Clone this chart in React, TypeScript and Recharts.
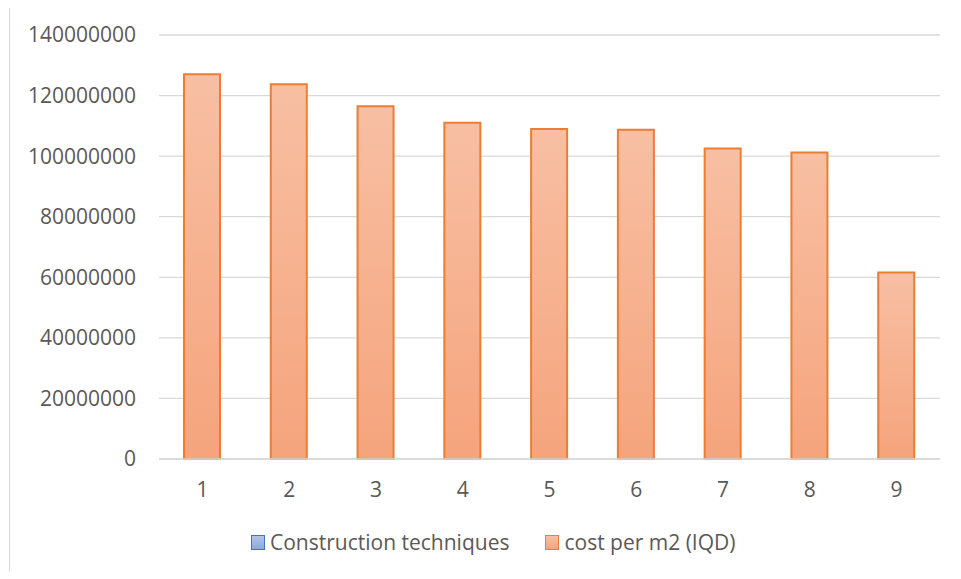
import React from 'react';
import { BarChart, Bar, XAxis, YAxis, CartesianGrid } from 'recharts';

const categories = ['1', '2', '3', '4', '5', '6', '7', '8', '9'];
const costPerM2 = [
  127000000, 123700000, 116500000, 111000000, 109000000, 108700000, 102500000, 101200000,
  61600000,
];
const yTicks = [0, 20000000, 40000000, 60000000, 80000000, 100000000, 120000000, 140000000];

const data = categories.map((c, i) => ({ name: c, cost: costPerM2[i] }));

const FONT = '"Open Sans", "Liberation Sans", sans-serif';
const TEXT = '#595959';
const GRID = '#d9d9d9';

const LegendItem = ({ from, to, border, label }: { from: string; to: string; border: string; label: string }) => (
  <div style={{ display: 'flex', alignItems: 'center' }}>
    <span
      style={{
        width: 14,
        height: 15,
        boxSizing: 'border-box',
        border: `1.5px solid ${border}`,
        background: `linear-gradient(${from}, ${to})`,
        marginRight: 5,
      }}
    />
    <span style={{ fontSize: 21, color: TEXT, fontFamily: FONT, lineHeight: '24px' }}>{label}</span>
  </div>
);

export default function App() {
  return (
    <div style={{ position: 'relative', width: 961, height: 579, margin: -8, overflow: 'hidden', background: '#fff' }}>
      <div
        style={{
          position: 'absolute',
          left: 9,
          top: 6,
          width: 1000,
          height: 700,
          border: `1px solid ${GRID}`,
        }}
      />
      <div style={{ position: 'absolute', left: 0, top: 0 }}>
        <BarChart
          width={961}
          height={579}
          data={data}
          margin={{ top: 35, right: 21, left: 0, bottom: 90 }}
          barSize={36}
        >
          <defs>
            <linearGradient id="costGrad" x1="0" y1="0" x2="0" y2="1">
              <stop offset="0%" stopColor="#f8bfa3" />
              <stop offset="100%" stopColor="#f5a47c" />
            </linearGradient>
          </defs>
          <CartesianGrid vertical={false} stroke={GRID} strokeWidth={1.3} />
          <XAxis
            dataKey="name"
            height={30}
            axisLine={{ stroke: GRID, strokeWidth: 1.3 }}
            tickLine={false}
            tickMargin={17}
            tick={{ fontSize: 21, fill: TEXT, fontFamily: FONT }}
          />
          <YAxis
            width={159}
            domain={[0, 140000000]}
            ticks={yTicks}
            interval={0}
            axisLine={false}
            tickLine={false}
            tickMargin={17}
            tick={{ fontSize: 21, fill: TEXT, fontFamily: FONT }}
          />
          <Bar
            dataKey="cost"
            fill="url(#costGrad)"
            stroke="#ed7d31"
            strokeWidth={2}
            isAnimationActive={false}
          />
        </BarChart>
      </div>
      <div
        style={{
          position: 'absolute',
          left: 251,
          top: 530,
          display: 'flex',
          alignItems: 'center',
          gap: 36,
        }}
      >
        <LegendItem from="#b3c3e8" to="#8fa8dc" border="#4472c4" label="Construction techniques" />
        <LegendItem from="#f8bfa3" to="#f5a47c" border="#ed7d31" label="cost per m2 (IQD)" />
      </div>
    </div>
  );
}
